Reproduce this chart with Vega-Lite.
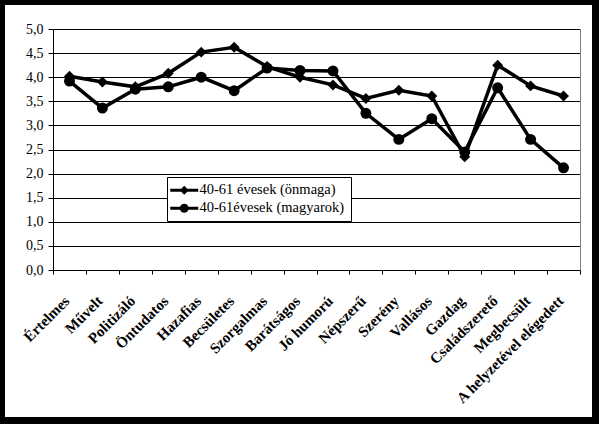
{
  "$schema": "https://vega.github.io/schema/vega-lite/v6.json",
  "width": 587,
  "height": 412,
  "autosize": {"type": "none"},
  "padding": {"left": 5, "top": 5, "right": 7, "bottom": 7},
  "background": "black",
  "config": {
    "view": {"fill": "white", "stroke": null},
    "font": "Liberation Serif"
  },
  "data": {
    "values": [
      {"trait": "Értelmes", "series": "40-61 évesek (önmaga)", "value": 4.02},
      {"trait": "Művelt", "series": "40-61 évesek (önmaga)", "value": 3.90},
      {"trait": "Politizáló", "series": "40-61 évesek (önmaga)", "value": 3.80},
      {"trait": "Öntudatos", "series": "40-61 évesek (önmaga)", "value": 4.08},
      {"trait": "Hazafias", "series": "40-61 évesek (önmaga)", "value": 4.52},
      {"trait": "Becsületes", "series": "40-61 évesek (önmaga)", "value": 4.62},
      {"trait": "Szorgalmas", "series": "40-61 évesek (önmaga)", "value": 4.22},
      {"trait": "Barátságos", "series": "40-61 évesek (önmaga)", "value": 4.00},
      {"trait": "Jó humorú", "series": "40-61 évesek (önmaga)", "value": 3.84},
      {"trait": "Népszerű", "series": "40-61 évesek (önmaga)", "value": 3.56},
      {"trait": "Szerény", "series": "40-61 évesek (önmaga)", "value": 3.73},
      {"trait": "Vallásos", "series": "40-61 évesek (önmaga)", "value": 3.61},
      {"trait": "Gazdag", "series": "40-61 évesek (önmaga)", "value": 2.35},
      {"trait": "Családszerető", "series": "40-61 évesek (önmaga)", "value": 4.25},
      {"trait": "Megbecsült", "series": "40-61 évesek (önmaga)", "value": 3.82},
      {"trait": "A helyzetével elégedett", "series": "40-61 évesek (önmaga)", "value": 3.61},
      {"trait": "Értelmes", "series": "40-61évesek (magyarok)", "value": 3.92},
      {"trait": "Művelt", "series": "40-61évesek (magyarok)", "value": 3.36},
      {"trait": "Politizáló", "series": "40-61évesek (magyarok)", "value": 3.75},
      {"trait": "Öntudatos", "series": "40-61évesek (magyarok)", "value": 3.80},
      {"trait": "Hazafias", "series": "40-61évesek (magyarok)", "value": 4.00},
      {"trait": "Becsületes", "series": "40-61évesek (magyarok)", "value": 3.72},
      {"trait": "Szorgalmas", "series": "40-61évesek (magyarok)", "value": 4.19},
      {"trait": "Barátságos", "series": "40-61évesek (magyarok)", "value": 4.14},
      {"trait": "Jó humorú", "series": "40-61évesek (magyarok)", "value": 4.13},
      {"trait": "Népszerű", "series": "40-61évesek (magyarok)", "value": 3.25},
      {"trait": "Szerény", "series": "40-61évesek (magyarok)", "value": 2.71},
      {"trait": "Vallásos", "series": "40-61évesek (magyarok)", "value": 3.14},
      {"trait": "Gazdag", "series": "40-61évesek (magyarok)", "value": 2.45},
      {"trait": "Családszerető", "series": "40-61évesek (magyarok)", "value": 3.78},
      {"trait": "Megbecsült", "series": "40-61évesek (magyarok)", "value": 2.71},
      {"trait": "A helyzetével elégedett", "series": "40-61évesek (magyarok)", "value": 2.12}
    ]
  },
  "encoding": {
    "x": {
      "field": "trait",
      "type": "nominal",
      "sort": null,
      "scale": {"type": "band", "range": [48, 575], "paddingInner": 0, "paddingOuter": 0},
      "axis": {
        "title": null,
        "orient": "bottom",
        "offset": -147,
        "tickBand": "extent",
        "grid": false,
        "labelAngle": -45,
        "labelAlign": "right",
        "labelBaseline": "middle",
        "labelFont": "Liberation Serif",
        "labelFontWeight": "bold",
        "labelFontSize": 15,
        "labelColor": "black",
        "labelPadding": 24,
        "labelOffset": -3,
        "tickSize": 4,
        "tickColor": "black",
        "domainColor": "black"
      }
    }
  },
  "resolve": {
    "axis": {"y": "independent"},
    "scale": {"shape": "independent"},
    "legend": {"shape": "independent"}
  },
  "layer": [
    {
      "mark": {"type": "line", "color": "black", "strokeWidth": 3.5},
      "encoding": {
        "y": {
          "field": "value",
          "type": "quantitative",
          "scale": {"domain": [0, 5], "range": [265, 24]},
          "axis": {
            "title": null,
            "offset": -48,
            "values": [0, 0.5, 1, 1.5, 2, 2.5, 3, 3.5, 4, 4.5, 5],
            "labelExpr": "replace(format(datum.value, '.1f'), '.', ',')",
            "labelFont": "Liberation Serif",
            "labelFontSize": 14,
            "labelColor": "black",
            "labelPadding": 5,
            "tickSize": 5,
            "tickColor": "black",
            "domainColor": "black",
            "gridColor": "black",
            "gridOpacity": 1
          }
        },
        "detail": {"field": "series"}
      }
    },
    {
      "mark": {"type": "point", "filled": true, "color": "black", "opacity": 1, "size": 120},
      "encoding": {
        "y": {
          "field": "value",
          "type": "quantitative",
          "axis": {
            "title": null,
            "orient": "right",
            "offset": -12,
            "labels": false,
            "ticks": false,
            "grid": false,
            "domainColor": "#808080"
          }
        },
        "shape": {
          "field": "series",
          "type": "nominal",
          "sort": null,
          "scale": {"range": ["diamond", "circle"]},
          "legend": null
        }
      }
    },
    {
      "transform": [{"filter": "false"}],
      "mark": {"type": "point", "filled": true, "color": "black", "opacity": 1},
      "encoding": {
        "y": {"field": "value", "type": "quantitative", "axis": null},
        "shape": {
          "field": "series",
          "type": "nominal",
          "scale": {
            "domain": ["40-61 évesek (önmaga)", "40-61évesek (magyarok)"],
            "range": [
              "M-2,-0.21L-0.43,-0.21L0,-0.64L0.43,-0.21L2,-0.21L2,0.21L0.43,0.21L0,0.64L-0.43,0.21L-2,0.21Z",
              "M-2,-0.21L-0.605,-0.21L-0.453,-0.453L-0.245,-0.591L0,-0.64L0.245,-0.591L0.453,-0.453L0.605,-0.21L2,-0.21L2,0.21L0.605,0.21L0.453,0.453L0.245,0.591L0,0.64L-0.245,0.591L-0.453,0.453L-0.605,0.21L-2,0.21Z"
            ]
          },
          "legend": {
            "title": null,
            "orient": "none",
            "legendX": 162,
            "legendY": 172,
            "strokeColor": "black",
            "fillColor": "white",
            "padding": 6,
            "rowPadding": 3,
            "symbolSize": 196,
            "symbolOffset": 4,
            "labelOffset": 8,
            "symbolFillColor": "black",
            "symbolStrokeWidth": 0,
            "labelFont": "Liberation Serif",
            "labelFontSize": 14.5,
            "labelColor": "black"
          }
        }
      }
    }
  ]
}
